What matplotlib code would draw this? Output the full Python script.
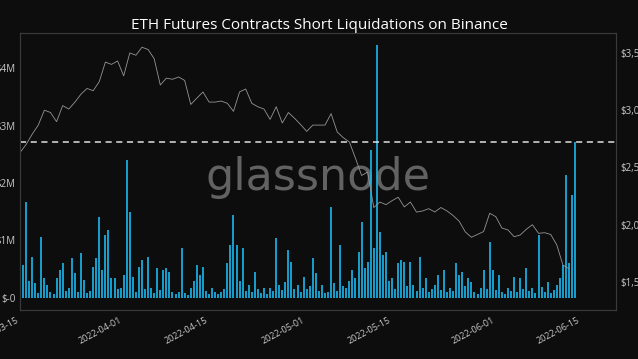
import numpy as np
import pandas as pd
import matplotlib
matplotlib.use('Agg')
import matplotlib.pyplot as plt

plt.rcParams['font.family'] = ['Open Sans', 'DejaVu Sans']

# short liquidations, USD millions, one value every 12h from 2022-03-15
liq = [0.19, 0.57, 1.67, 0.30, 0.71, 0.26, 0.08, 1.06, 0.35, 0.23,
       0.10, 0.06, 0.35, 0.49, 0.61, 0.12, 0.17, 0.70, 0.43, 0.10,
       0.78, 0.31, 0.08, 0.12, 0.54, 0.70, 1.41, 0.49, 1.10, 1.18,
       0.35, 0.35, 0.15, 0.17, 0.40, 2.40, 1.50, 0.37, 0.10, 0.54,
       0.66, 0.15, 0.71, 0.17, 0.08, 0.52, 0.14, 0.49, 0.52, 0.45,
       0.10, 0.06, 0.10, 0.87, 0.08, 0.05, 0.17, 0.30, 0.57, 0.40,
       0.54, 0.12, 0.07, 0.17, 0.10, 0.06, 0.10, 0.15, 0.61, 0.92,
       1.44, 0.92, 0.30, 0.87, 0.12, 0.23, 0.10, 0.45, 0.15, 0.08,
       0.17, 0.06, 0.17, 0.12, 1.04, 0.23, 0.14, 0.28, 0.83, 0.63,
       0.15, 0.23, 0.10, 0.37, 0.15, 0.20, 0.70, 0.43, 0.12, 0.23,
       0.08, 0.10, 1.58, 0.26, 0.12, 0.92, 0.20, 0.17, 0.30, 0.49,
       0.35, 0.80, 1.32, 0.52, 0.63, 2.57, 0.87, 4.40, 1.15, 0.75,
       0.80, 0.30, 0.35, 0.15, 0.61, 0.66, 0.63, 0.20, 0.63, 0.23,
       0.12, 0.71, 0.18, 0.35, 0.10, 0.15, 0.23, 0.40, 0.14, 0.49,
       0.10, 0.17, 0.12, 0.61, 0.40, 0.45, 0.20, 0.35, 0.28, 0.10,
       0.06, 0.17, 0.49, 0.15, 0.97, 0.49, 0.14, 0.40, 0.10, 0.06,
       0.17, 0.12, 0.37, 0.10, 0.35, 0.15, 0.52, 0.12, 0.17, 0.08,
       1.10, 0.19, 0.10, 0.28, 0.08, 0.14, 0.23, 0.35, 0.57, 2.14,
       0.60, 1.79, 2.72]

# ETH price, daily
price = [2630, 2700, 2790, 2870, 3000, 2980, 2900, 3040, 3010, 3070,
         3140, 3190, 3170, 3250, 3420, 3400, 3430, 3300, 3500, 3480,
         3550, 3530, 3450, 3220, 3280, 3270, 3290, 3260, 3050, 3106,
         3159, 3071, 3071, 3080, 3060, 2990, 3160, 3185, 3060, 3030,
         3010, 2920, 3030, 2888, 2980, 2930, 2875, 2815, 2870, 2870,
         2870, 2970, 2810, 2760, 2722, 2580, 2430, 2460, 2150, 2198,
         2175, 2210, 2240, 2155, 2198, 2110, 2120, 2140, 2111, 2150,
         2120, 2080, 2030, 1937, 1890, 1915, 1940, 2100, 2070, 1971,
         1954, 1895, 1910, 1960, 2000, 1925, 1930, 1915, 1823, 1648,
         1615]

left_ticks = [0, 1, 2, 3, 4]
left_labels = ['$-0', '$1M', '$2M', '$3M', '$4M']
right_ticks = [1500, 2000, 2500, 3000, 3500]
right_labels = ['$1,500', '$2,000', '$2,500', '$3,000', '$3,500']
date_ticks = ['2022-03-15', '2022-04-01', '2022-04-15', '2022-05-01',
              '2022-05-15', '2022-06-01', '2022-06-15']

t_liq = pd.date_range('2022-03-15', periods=len(liq), freq='12h')
t_price = pd.date_range('2022-03-15', periods=len(price), freq='D')

bg = '#0d0d0d'
fig = plt.figure(figsize=(6.38, 3.59), dpi=100, facecolor=bg)
ax = fig.add_axes([0.0313, 0.1365, 0.9342, 0.7715])
ax.set_facecolor(bg)
ax2 = ax.twinx()

ax.text(0.5, 0.48, 'glassnode', transform=ax.transAxes, ha='center', va='center',
        fontsize=32, color='#626262', family='DejaVu Sans', zorder=0)

# thin spikes like the hourly bars
ax.vlines(t_liq, 0, liq, color='#1ab8f0', lw=1.2, zorder=2)
ax.axhline(liq[-1], color='#e0e0e0', ls='--', dashes=(4, 3), lw=1.1, zorder=4)

ax2.plot(t_price, price, color='#959595', lw=0.6)

ax.set_xlim(pd.Timestamp('2022-03-15'), pd.Timestamp('2022-03-15') + pd.Timedelta(days=97.7))
ax.set_ylim(-0.21, 4.61)
ax2.set_ylim(1255, 3674)

ax.set_yticks(left_ticks)
ax.set_yticklabels(left_labels)
ax2.set_yticks(right_ticks)
ax2.set_yticklabels(right_labels)
ax.set_xticks(pd.to_datetime(date_ticks))
ax.set_xticklabels(date_ticks, rotation=28, ha='right')

for a in (ax, ax2):
    a.tick_params(colors='#c8c8c8', labelsize=7, length=0, pad=3)
    for s in a.spines.values():
        s.set_color('#3a3a3a')
        s.set_linewidth(0.8)
ax.tick_params(axis='x', labelsize=6.5, pad=4)

fig.suptitle('ETH Futures Contracts Short Liquidations on Binance', color='white',
             fontsize=11, y=0.95)

fig.savefig('out.png', dpi=100, facecolor=bg)
